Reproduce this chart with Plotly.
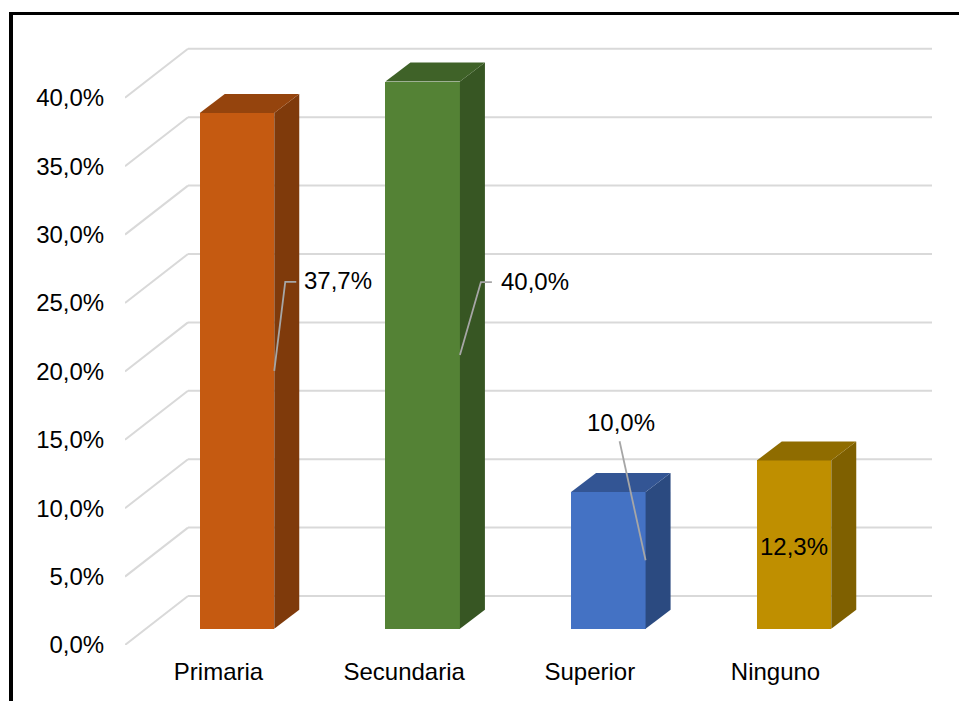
import plotly.graph_objects as go

# ---- data ----
categories = ["Primaria", "Secundaria", "Superior", "Ninguno"]
values = [37.7, 40.0, 10.0, 12.3]
value_labels = ["37,7%", "40,0%", "10,0%", "12,3%"]
y_ticks = [0, 5, 10, 15, 20, 25, 30, 35, 40]
y_tick_labels = ["0,0%", "5,0%", "10,0%", "15,0%", "20,0%", "25,0%", "30,0%", "35,0%", "40,0%"]
front_colors = ["#C55A11", "#548235", "#4472C4", "#BF8F00"]
side_colors = ["#7F3A0B", "#375623", "#2B4A80", "#7F6000"]
top_colors = ["#95440D", "#3F6228", "#335594", "#8F6C00"]

# ---- geometry ----
W, H = 959, 701
L, R, T, B = 125, 932, 41, 645
PX_X = 185.67          # pixels per category
PX_Y = 13.68           # pixels per percent point
x0_px = 218.5          # pixel of first category on the floor's front edge
xmin = (L - x0_px) / PX_X
xmax = (R - x0_px) / PX_X
ymax = (B - T) / PX_Y
dxp = lambda p: p / PX_X
dyp = lambda p: p / PX_Y

bar_dx = dxp(18.5)
bar_w = dxp(74.5)
bar_base = dyp(16.3)
depth_x, depth_y = dxp(25), dyp(19)
wall_x, wall_y = dxp(63), dyp(49)

fig = go.Figure()

# gridlines on the back wall and side wall
shapes = []
for t in y_ticks:
    pts = [(xmin, t), (xmin + wall_x, t + wall_y), (xmax, t + wall_y)]
    for a, b in zip(pts[:-1], pts[1:]):
        shapes.append(dict(type="line", xref="x", yref="y", layer="below",
                           x0=a[0], y0=a[1], x1=b[0], y1=b[1],
                           line=dict(color="#D9D9D9", width=2)))

# front faces
xs = [i + bar_dx for i in range(len(values))]
fig.add_trace(go.Bar(x=xs, y=values, base=bar_base, width=bar_w,
                     marker=dict(color=front_colors, line=dict(width=0)),
                     showlegend=False, hoverinfo="skip"))

# side and top faces
for i, v in enumerate(values):
    xl = xs[i] - bar_w / 2
    xr = xs[i] + bar_w / 2
    yb = bar_base
    yt = bar_base + v
    fig.add_trace(go.Scatter(
        x=[xr, xr + depth_x, xr + depth_x, xr, xr],
        y=[yb, yb + depth_y, yt + depth_y, yt, yb],
        mode="lines", fill="toself", fillcolor=side_colors[i],
        line=dict(width=0), showlegend=False, hoverinfo="skip"))
    fig.add_trace(go.Scatter(
        x=[xl, xl + depth_x, xr + depth_x, xr, xl],
        y=[yt, yt + depth_y, yt + depth_y, yt, yt],
        mode="lines", fill="toself", fillcolor=top_colors[i],
        line=dict(width=0), showlegend=False, hoverinfo="skip"))

# leader lines and data labels: pixel offsets from the mid-height of each bar's right edge
leader_px = [[(11, 89), (22, 89)], [(21, 73), (32, 73)], [(-26, 119)], None]
label_px = [(64, 90), (75, 74), (-25, 138), (-37, -2)]
for i, v in enumerate(values):
    ax = xs[i] + bar_w / 2
    ay = bar_base + v / 2
    if leader_px[i]:
        lx = [ax] + [ax + dxp(p[0]) for p in leader_px[i]]
        ly = [ay] + [ay + dyp(p[1]) for p in leader_px[i]]
        fig.add_trace(go.Scatter(x=lx, y=ly, mode="lines",
                                 line=dict(color="#A6A6A6", width=1.8),
                                 showlegend=False, hoverinfo="skip"))
    fig.add_annotation(x=ax + dxp(label_px[i][0]), y=ay + dyp(label_px[i][1]),
                       text=value_labels[i], showarrow=False, xanchor="center", yanchor="middle",
                       font=dict(color="#000000", size=24))

# chart frame (top and left only)
def px_x(p): return (p - L) / (R - L)
def px_y(p): return (B - p) / (B - T)
shapes.append(dict(type="rect", xref="paper", yref="paper", layer="above",
                   x0=px_x(9), x1=px_x(959), y0=px_y(12), y1=px_y(15),
                   fillcolor="#000000", line=dict(width=0)))
shapes.append(dict(type="rect", xref="paper", yref="paper", layer="above",
                   x0=px_x(9), x1=px_x(13), y0=px_y(12), y1=px_y(720),
                   fillcolor="#000000", line=dict(width=0)))

fig.update_layout(
    width=W, height=H,
    margin=dict(l=L, r=W - R, t=T, b=H - B, pad=0),
    paper_bgcolor="#FFFFFF", plot_bgcolor="rgba(0,0,0,0)",
    font=dict(family="Liberation Sans, Arial, sans-serif", size=24, color="#000000"),
    shapes=shapes, showlegend=False, bargap=0,
    xaxis=dict(range=[xmin, xmax], tickvals=list(range(len(categories))), ticktext=categories,
               showgrid=False, zeroline=False, showline=False,
               ticks="outside", ticklen=5, tickcolor="rgba(0,0,0,0)", tickfont=dict(size=24)),
    yaxis=dict(range=[0, ymax], tickvals=y_ticks, ticktext=y_tick_labels,
               showgrid=False, zeroline=False, showline=False,
               ticks="outside", ticklen=15, tickcolor="rgba(0,0,0,0)", tickfont=dict(size=24)),
)

fig.write_html("out.html", post_script="document.body.style.margin='0';",
               config=dict(displayModeBar=False))
